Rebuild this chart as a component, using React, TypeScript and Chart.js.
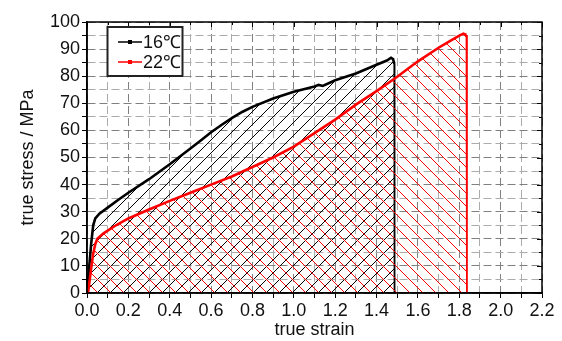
import React, { useEffect, useRef } from "react";
import { Chart, registerables } from "chart.js";

Chart.register(...registerables);

// 16 °C curve
const strain16 = [0, 0.01, 0.02, 0.03, 0.04, 0.06, 0.1, 0.15, 0.2, 0.3, 0.4, 0.5, 0.55, 0.6, 0.65, 0.7, 0.75, 0.8, 0.9, 1.0, 1.1, 1.12, 1.14, 1.2, 1.3, 1.4, 1.45, 1.47, 1.48, 1.486, 1.487];
const stress16 = [0, 9, 18, 25, 27.5, 29.3, 31.5, 34.3, 37, 42, 47.5, 53.3, 56.3, 59.3, 62, 64.5, 66.8, 68.7, 71.8, 74.3, 76.2, 76.8, 76.4, 78.5, 81, 84.2, 85.8, 86.8, 86.3, 84.5, 0];
// 22 °C curve
const strain22 = [0, 0.005, 0.02, 0.03, 0.04, 0.05, 0.08, 0.14, 0.2, 0.3, 0.4, 0.5, 0.6, 0.7, 0.8, 0.9, 1.0, 1.1, 1.2, 1.3, 1.4, 1.5, 1.6, 1.7, 1.75, 1.8, 1.82, 1.835, 1.837];
const stress22 = [0, 0, 9, 14.5, 18, 20, 22, 25, 27.5, 30.8, 34, 37, 40, 43, 46.5, 50, 54, 59, 64, 69.5, 74.5, 79.8, 85.5, 90.5, 92.8, 95, 95.7, 95.2, 0];

const seriesLabels = ["16\u2103", "22\u2103"];
const seriesColors = ["#000000", "#ff0000"];
const xRange = [0, 2.2];
const yRange = [0, 100];
const xTitle = "true strain";
const yTitle = "true stress / MPa";

function makeHatch(color: string, dir: "/" | "\\", size = 13) {
  const c = document.createElement("canvas");
  c.width = size;
  c.height = size;
  const g = c.getContext("2d")!;
  g.fillStyle = color;
  for (let i = 0; i < size; i++) {
    if (dir === "/") g.fillRect(i, size - 1 - i, 1, 1);
    else g.fillRect(i, i, 1, 1);
  }
  return g.createPattern(c, "repeat")!;
}

const FONT = "'Liberation Sans', Arial, sans-serif";

const framePlugin = {
  id: "frame",
  afterDraw(chart: any) {
    const { ctx, chartArea: a, scales } = chart;
    ctx.save();
    ctx.strokeStyle = "#000";
    ctx.lineWidth = 1;
    const xs = scales.x;
    const ys = scales.y;
    ctx.beginPath();
    for (let v = 0; v <= 22; v++) {
      const px = Math.round(xs.getPixelForValue(v / 10)) + 0.5;
      const len = v % 2 === 0 ? 5 : 3;
      ctx.moveTo(px, a.top);
      ctx.lineTo(px, a.top + len);
    }
    for (let v = 0; v <= 20; v++) {
      const py = Math.round(ys.getPixelForValue(v * 5)) + 0.5;
      const len = v % 2 === 0 ? 5 : 3;
      ctx.moveTo(a.right, py);
      ctx.lineTo(a.right - len, py);
    }
    ctx.stroke();
    ctx.lineWidth = 1.5;
    ctx.strokeRect(a.left, a.top, a.right - a.left, a.bottom - a.top);

    // legend
    const bx = 107.5, by = 27, bw = 75, bh = 49;
    ctx.fillStyle = "#fff";
    ctx.fillRect(bx, by, bw, bh);
    ctx.lineWidth = 2;
    ctx.strokeStyle = "#222";
    ctx.strokeRect(bx, by, bw, bh);
    const rows = [42, 62];
    chart.data.datasets.forEach((ds: any, i: number) => {
      const ry = rows[i];
      ctx.strokeStyle = ds.borderColor;
      ctx.lineWidth = 1.5;
      ctx.beginPath();
      ctx.moveTo(118, ry);
      ctx.lineTo(142, ry);
      ctx.stroke();
      ctx.fillStyle = ds.borderColor;
      ctx.fillRect(128, ry - 2, 4, 4);
      ctx.fillStyle = "#111";
      ctx.font = `18px ${FONT}`;
      ctx.textBaseline = "middle";
      ctx.textAlign = "left";
      ctx.fillText(ds.label, 143, ry + 1);
    });
    ctx.restore();
  },
};

export default function App() {
  const ref = useRef<HTMLCanvasElement>(null);
  useEffect(() => {
    const canvas = ref.current!;
    const hatchBlack = makeHatch(seriesColors[0], "/");
    const hatchRed = makeHatch(seriesColors[1], "\\");
    const toPts = (xs: number[], ys: number[]) => xs.map((x, i) => ({ x, y: ys[i] }));
    const vertThin = (ctx: any) =>
      ctx.p0.parsed.x === ctx.p1.parsed.x || Math.abs(ctx.p1.parsed.y - ctx.p0.parsed.y) > 40 ? 1.8 : undefined;
    const gridColor = (step: number) => (ctx: any) => {
      const v = ctx.tick ? ctx.tick.value : 0;
      const major = Math.abs(Math.round(v / step) % 2) === 0;
      return major ? "#808080" : "#ababab";
    };
    const chart = new Chart(canvas, {
      type: "scatter",
      data: {
        datasets: [
          {
            label: seriesLabels[0],
            data: toPts(strain16, stress16),
            showLine: true,
            borderColor: seriesColors[0],
            backgroundColor: hatchBlack,
            borderWidth: 2.6,
            pointRadius: 0,
            fill: "origin",
            tension: 0,
            order: 2,
            segment: { borderWidth: vertThin },
          },
          {
            label: seriesLabels[1],
            data: toPts(strain22, stress22),
            showLine: true,
            borderColor: seriesColors[1],
            backgroundColor: hatchRed,
            borderWidth: 2.6,
            pointRadius: 0,
            fill: "origin",
            tension: 0,
            order: 1,
            segment: { borderWidth: vertThin },
          },
        ],
      },
      options: {
        responsive: false,
        animation: false,
        devicePixelRatio: 1,
        layout: { padding: { left: 0, top: 22, right: 20, bottom: 0 } },
        plugins: { legend: { display: false }, tooltip: { enabled: false } },
        scales: {
          x: {
            type: "linear",
            min: xRange[0],
            max: xRange[1],
            afterFit: (s: any) => {
              s.height = 48;
            },
            ticks: {
              stepSize: 0.1,
              autoSkip: false,
              maxRotation: 0,
              padding: 2,
              color: "#111",
              font: { family: FONT, size: 18 },
              callback: (v: any) => (Math.round(Number(v) * 10) % 2 === 0 ? Number(v).toFixed(1) : ""),
            },
            grid: {
              color: gridColor(0.1),
              lineWidth: 1,
              tickLength: 5,
              tickColor: "#000",
              tickWidth: 1,
            },
            border: { display: true, color: "#000", width: 1.5, dash: [8, 4] },
            title: {
              display: true,
              text: xTitle,
              color: "#111",
              font: { family: FONT, size: 18 },
              padding: { top: 0, bottom: 0 },
            },
          },
          y: {
            type: "linear",
            min: yRange[0],
            max: yRange[1],
            afterFit: (s: any) => {
              s.width = 87;
            },
            ticks: {
              stepSize: 5,
              autoSkip: false,
              padding: 2,
              color: "#111",
              font: { family: FONT, size: 18 },
              callback: (v: any) => (Math.round(Number(v)) % 10 === 0 ? String(v) : ""),
            },
            grid: {
              color: gridColor(5),
              lineWidth: 1,
              tickLength: 5,
              tickColor: "#000",
              tickWidth: 1,
            },
            border: { display: true, color: "#000", width: 1.5, dash: [8, 4] },
            title: {
              display: true,
              text: yTitle,
              color: "#111",
              font: { family: FONT, size: 18 },
              padding: { top: 17, bottom: 0 },
            },
          },
        },
      },
      plugins: [framePlugin],
    } as any);
    return () => chart.destroy();
  }, []);
  return (
    <div style={{ position: "fixed", left: 0, top: 0, width: 562, height: 341, background: "#fff" }}>
      <canvas ref={ref} width={562} height={341} style={{ display: "block" }} />
    </div>
  );
}
